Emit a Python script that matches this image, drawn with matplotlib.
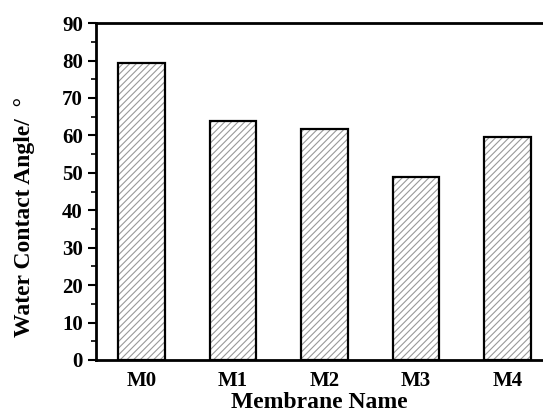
import numpy as np
import matplotlib.pyplot as plt
from matplotlib.ticker import MultipleLocator

names = ["M0", "M1", "M2", "M3", "M4"]
angles = [79.4, 63.8, 61.7, 49.0, 59.6]

plt.rcParams['font.family'] = ['Liberation Serif', 'DejaVu Serif']
plt.rcParams['font.weight'] = 'bold'
plt.rcParams['hatch.linewidth'] = 0.8

fig = plt.figure(figsize=(5.43, 4.2), dpi=100)
ax = fig.add_axes([0.1768, 0.1429, 0.8232, 0.8021])

x = np.arange(len(names))
# hatch first (gray), then black outline on top
ax.bar(x, angles, width=0.51, color="white", edgecolor="#999999", hatch="/////", linewidth=0)
ax.bar(x, angles, width=0.51, fill=False, edgecolor="black", linewidth=1.6)

ax.set_xlim(-0.5, 4.39)
ax.set_ylim(0, 90)
ax.set_xticks(x)
ax.set_xticklabels(names, fontsize=15, fontweight="bold")
ax.yaxis.set_major_locator(MultipleLocator(10))
ax.yaxis.set_minor_locator(MultipleLocator(5))
ax.tick_params(axis="y", which="major", direction="out", length=6, width=1.5, labelsize=15)
ax.tick_params(axis="y", which="minor", direction="out", length=3.5, width=1.2)
ax.tick_params(axis="x", length=0, pad=8)
for t in ax.get_yticklabels():
    t.set_fontweight("bold")

ax.spines["right"].set_visible(False)
for s in ["left", "top", "bottom"]:
    ax.spines[s].set_linewidth(2)

ax.set_xlabel("Membrane Name", fontsize=17, fontweight="bold", labelpad=1)
ax.set_ylabel("Water Contact Angle/  °", fontsize=17, fontweight="bold")
ax.yaxis.set_label_coords(-0.137, 0.423)

fig.savefig("out.png", dpi=100)
